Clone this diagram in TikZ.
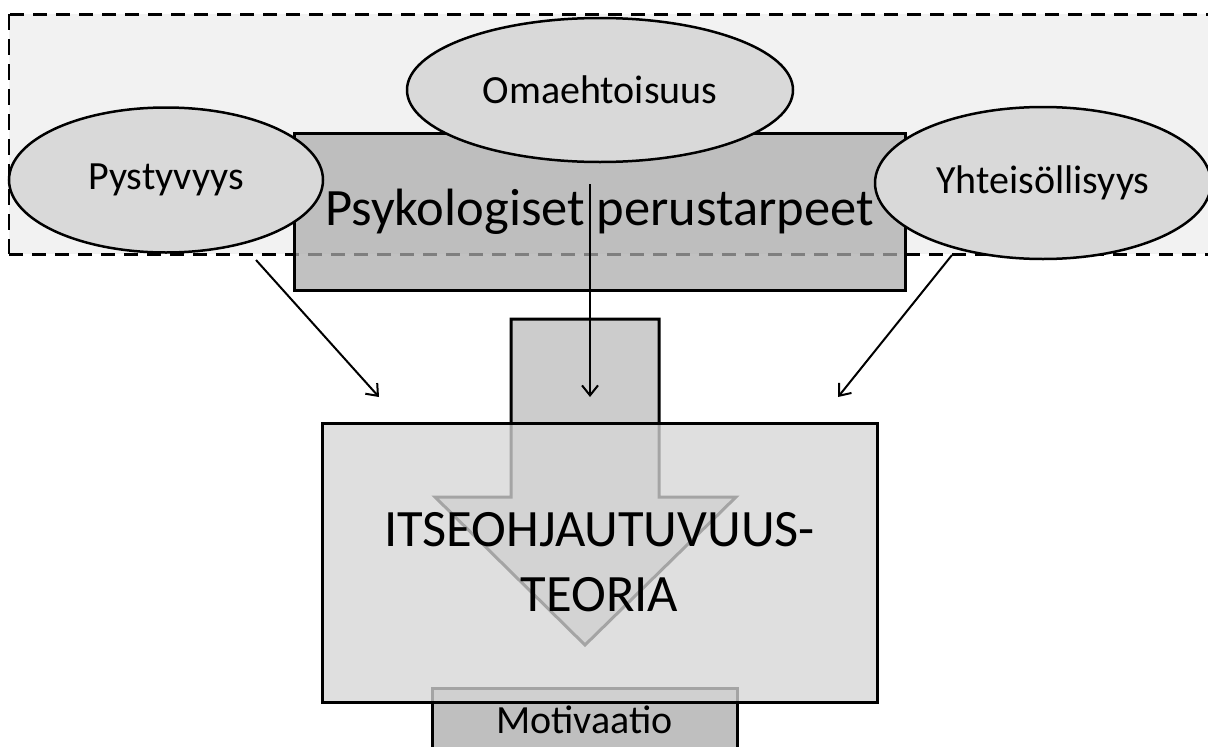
\documentclass[tikz,border=0pt]{standalone}
\usepackage{fontspec}
\setmainfont{Carlito}
\usetikzlibrary{shapes.geometric,arrows.meta}
\definecolor{dashfill}{gray}{0.949}
\definecolor{psykfill}{gray}{0.675}
\definecolor{ellfill}{gray}{0.851}
\definecolor{arrfill}{gray}{0.8}
\definecolor{motfill}{gray}{0.75}
\definecolor{teofill}{gray}{0.839}
\tikzset{
  dashline/.style={draw=black,line width=3pt,dash pattern=on 14pt off 9pt},
  bubble/.style={ellipse,draw=black,line width=2.5pt,fill=ellfill,inner sep=0pt,font=\fontsize{40}{48}\selectfont},
  psykbox/.style={rectangle,draw=black,line width=3pt,fill=psykfill,fill opacity=0.74,text opacity=1,inner sep=0pt,font=\fontsize{52.5}{63}\selectfont},
  teobox/.style={rectangle,draw=black,line width=3pt,fill=teofill,fill opacity=0.77,text opacity=1,inner sep=0pt,align=center,font=\fontsize{52.5}{65}\selectfont},
  motbox/.style={rectangle,draw=black,line width=3pt,fill=motfill,inner sep=0pt,font=\fontsize{40}{48}\selectfont},
  bigarrow/.style={draw=black,line width=3pt,fill=arrfill,line join=miter},
  conn/.style={draw=black,line width=2pt,-{Straight Barb[length=10pt,width=16pt]}}
}
\begin{document}
\begin{tikzpicture}[x=1pt,y=-1pt]
\useasboundingbox (0,0) rectangle (1208,747);
\clip (0,0) rectangle (1208,747);
% dashed background region
\fill[dashfill] (9,14) rectangle (1220,254);
\draw[dashline] (1220,14) -- (9,14);
\draw[dashline] (9,254) -- (1220,254);
\draw[draw=black,line width=1.5pt,dash pattern=on 16pt off 9pt] (9,14) -- (9,254);
% central box
\node[psykbox,minimum width=611pt,minimum height=157pt] (psyk) at (599.5,211.5) {Psykologiset perustarpeet};
% ellipses
\node[bubble,minimum width=314pt,minimum height=145pt] (pysty) at (166,180) {Pystyvyys};
\node[bubble,minimum width=386pt,minimum height=144pt] (oma) at (600,90) {Omaehtoisuus};
\node[bubble,minimum width=336pt,minimum height=152pt] (yht) at (1043,183) {Yhteisöllisyys};
% big down arrow
\draw[bigarrow] (511,319) -- (659,319) -- (659,497) -- (736,497) -- (585,645) -- (435,497) -- (511,497) -- cycle;
% motivation box
\node[motbox,minimum width=305pt,minimum height=64pt] (mot) at (584.5,720) {Motivaatio};
% theory box
\node[teobox,minimum width=555pt,minimum height=279pt] (teo) at (599.5,562.5) {ITSEOHJAUTUVUUS-\\TEORIA};
% connectors
\coordinate (a1) at (256,260);
\coordinate (a2) at (379,397);
\coordinate (b1) at (590,184);
\coordinate (b2) at (590,397);
\coordinate (c1) at (952,255);
\coordinate (c2) at (838,397);
\draw[conn] (a1) -- (a2);
\draw[conn] (b1) -- (b2);
\draw[conn] (c1) -- (c2);
\end{tikzpicture}
\end{document}
